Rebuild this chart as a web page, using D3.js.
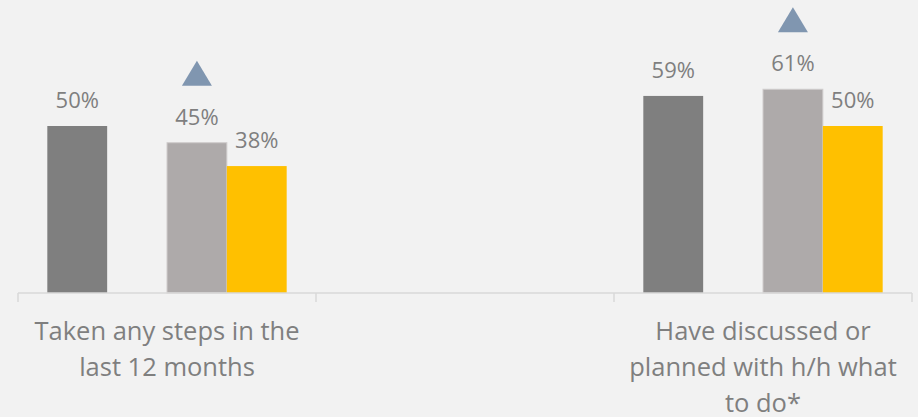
<!DOCTYPE html>
<html>
<head>
<meta charset="utf-8">
<script src="https://cdn.jsdelivr.net/npm/d3@7"></script>
<style>
  html, body { margin: 0; padding: 0; background: #F2F2F2; }
  svg { display: block; }
  text { font-family: "Open Sans", "Noto Sans", sans-serif; fill: #7F7F7F; }
</style>
</head>
<body>
<svg id="chart" width="918" height="417"></svg>
<script>
// Category slots along the axis (the middle slot is intentionally empty)
const categories = ["steps", "blank", "planned"];
const categoryLines = [
  ["Taken any steps in the", "last 12 months"],
  [],
  ["Have discussed or", "planned with h/h what", "to do*"]
];
// Series order within each group; the second series has no data
const seriesKeys = ["s1", "s2", "s3", "s4"];
const seriesColors = ["#7F7F7F", "none", "#AEAAAA", "#FFC000"];
const s1Values = [0.50, null, 0.59];
const s2Values = [null, null, null];
const s3Values = [0.45, null, 0.61];
const s4Values = [0.38, null, 0.50];
// Significance markers drawn above the s3 bars
const markerFlags = [true, false, true];

const seriesValues = [s1Values, s2Values, s3Values, s4Values];

const svg = d3.select("#chart");
const baseY = 293;

const x0 = d3.scaleBand().domain(categories).range([18, 912]).paddingInner(0).paddingOuter(0);
const x1 = d3.scaleBand().domain(seriesKeys).range([0, x0.bandwidth()]).paddingInner(0).paddingOuter(0.49);
const y = d3.scaleLinear().domain([0, 0.85]).range([baseY, baseY - 0.85 * 334]);

const pct = d3.format(".0%");

// Bars and value labels
categories.forEach((cat, ci) => {
  const g = svg.append("g").attr("transform", `translate(${x0(cat)},0)`);
  seriesKeys.forEach((key, si) => {
    const v = seriesValues[si][ci];
    if (v == null) return;
    const bx = x1(key), bw = x1.bandwidth();
    g.append("rect")
      .attr("x", bx)
      .attr("y", y(v))
      .attr("width", bw)
      .attr("height", y(0) - y(v))
      .attr("fill", seriesColors[si])
      .attr("stroke", key === "s3" ? "#CFCCCC" : "none")
      .attr("stroke-width", key === "s3" ? 1 : 0);
    g.append("text")
      .attr("x", bx + bw / 2)
      .attr("y", y(v) - 18)
      .attr("text-anchor", "middle")
      .attr("font-size", 22)
      .text(pct(v));
  });
  // Triangle marker above the s3 bar
  if (markerFlags[ci]) {
    const v = s3Values[ci];
    const cx = x1("s3") + x1.bandwidth() / 2;
    const bottom = y(v) - 57;
    g.append("path")
      .attr("d", `M${cx - 15},${bottom} L${cx + 15},${bottom} L${cx},${bottom - 25} Z`)
      .attr("fill", "#8096B0");
  }
});

// Category axis: baseline with ticks at slot boundaries
const edges = categories.map(c => x0(c)).concat([x0.range()[1]]);
const axis = svg.append("g").attr("stroke", "#D9D9D9").attr("stroke-width", 1.5);
axis.append("line").attr("x1", x0.range()[0]).attr("x2", x0.range()[1]).attr("y1", baseY).attr("y2", baseY);
axis.selectAll("line.tick").data(edges).join("line")
  .attr("class", "tick")
  .attr("x1", d => d).attr("x2", d => d)
  .attr("y1", baseY).attr("y2", baseY + 9);

// Category labels
categories.forEach((cat, ci) => {
  const t = svg.append("text")
    .attr("text-anchor", "middle")
    .attr("font-size", 25.5);
  categoryLines[ci].forEach((line, li) => {
    t.append("tspan")
      .attr("x", x0(cat) + x0.bandwidth() / 2)
      .attr("y", 340 + li * 36)
      .text(line);
  });
});
</script>
</body>
</html>
